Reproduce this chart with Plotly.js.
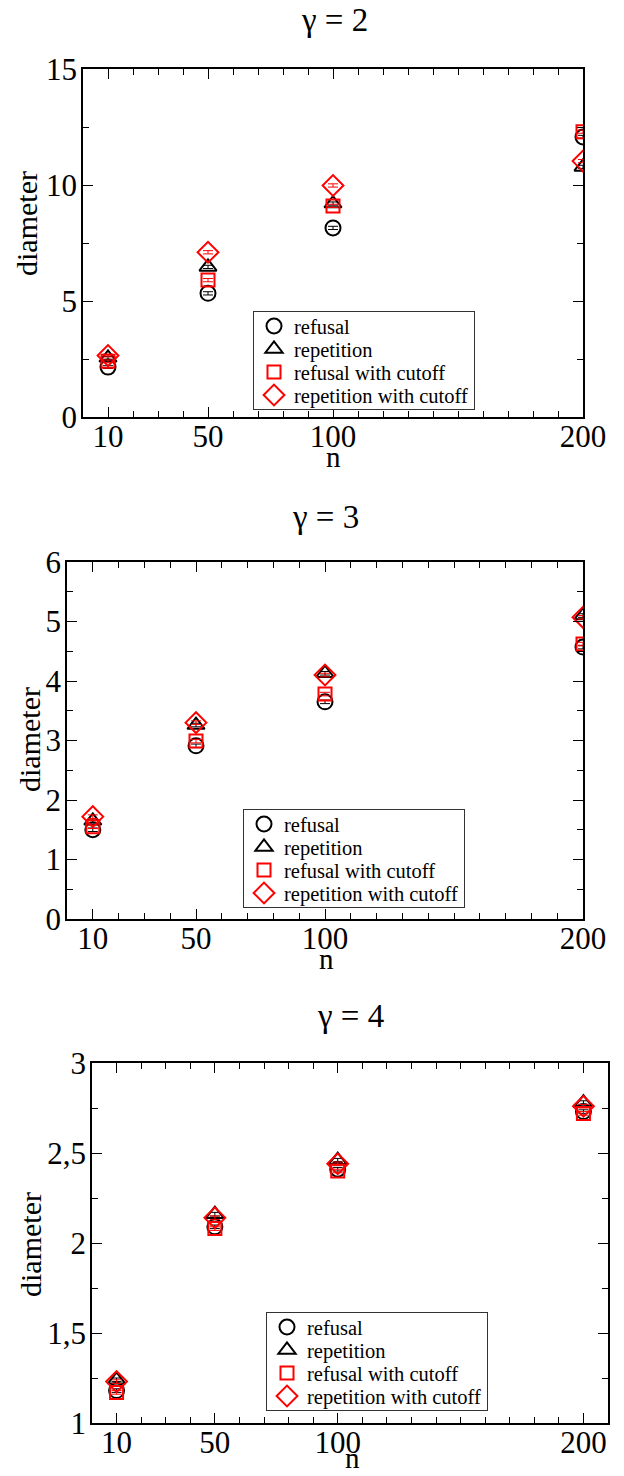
<!DOCTYPE html>
<html>
<head>
<meta charset="utf-8">
<script src="https://cdn.plot.ly/plotly-3.0.1.min.js"></script>
<style>
  html, body { margin: 0; padding: 0; background: #fff; }
  #chart { width: 624px; height: 1476px; }
</style>
</head>
<body>
<div id="chart"></div>
<script>
// ---------------- data ----------------
const n = [10, 50, 100, 200];
const seriesNames = ["refusal", "repetition", "refusal with cutoff", "repetition with cutoff"];

const g2_refusal = [2.15, 5.33, 8.15, 12.07];
const g2_repetition = [2.55, 6.47, 9.2, 10.78];
const g2_refusal_cutoff = [2.4, 5.9, 9.1, 12.3];
const g2_repetition_cutoff = [2.65, 7.1, 9.98, 11.03];
const g2_err = [0.06, 0.07, 0.07, 0.07];

const g3_refusal = [1.5, 2.91, 3.65, 4.57];
const g3_repetition = [1.65, 3.26, 4.13, 5.1];
const g3_refusal_cutoff = [1.55, 2.99, 3.78, 4.62];
const g3_repetition_cutoff = [1.72, 3.3, 4.1, 5.07];
const g3_err = [0.03, 0.03, 0.03, 0.03];

const g4_refusal = [1.18, 2.09, 2.41, 2.73];
const g4_repetition = [1.24, 2.16, 2.46, 2.78];
const g4_refusal_cutoff = [1.17, 2.08, 2.40, 2.72];
const g4_repetition_cutoff = [1.23, 2.14, 2.44, 2.76];
const g4_err = [0.01, 0.01, 0.01, 0.01];

const panelTitles = ["\u03b3 = 2", "\u03b3 = 3", "\u03b3 = 4"];
const xTickVals = [10, 50, 100, 200];
const xTickText = ["10", "50", "100", "200"];
const y1TickVals = [0, 5, 10, 15];
const y1TickText = ["0", "5", "10", "15"];
const y2TickVals = [0, 1, 2, 3, 4, 5, 6];
const y2TickText = ["0", "1", "2", "3", "4", "5", "6"];
const y3TickVals = [1, 1.5, 2, 2.5, 3];
const y3TickText = ["1", "1,5", "2", "2,5", "3"];

// ---------------- styles ----------------
const FONT = "'Liberation Serif', 'Times New Roman', serif";
const styles = [
  {symbol: "circle-open", color: "#000000", size: 15},
  {symbol: "triangle-up-open", color: "#000000", size: 15},
  {symbol: "square-open", color: "#ff0000", size: 13},
  {symbol: "diamond-open", color: "#ff0000", size: 16}
];

const panels = [
  {series: [g2_refusal, g2_repetition, g2_refusal_cutoff, g2_repetition_cutoff], err: g2_err},
  {series: [g3_refusal, g3_repetition, g3_refusal_cutoff, g3_repetition_cutoff], err: g3_err},
  {series: [g4_refusal, g4_repetition, g4_refusal_cutoff, g4_repetition_cutoff], err: g4_err}
];

const W = 624, H = 1476;
// pixel boxes of plot areas [left, right, top, bottom]
const boxes = [
  [83, 583, 69, 417],
  [67, 583, 562, 919],
  [92, 608, 1063, 1423]
];
const xRanges = [[0, 200], [0, 200], [0, 210]];
const yRanges = [[0, 15], [0, 6], [1, 3]];
const yTicks = [[y1TickVals, y1TickText, 2.5], [y2TickVals, y2TickText, 0.5], [y3TickVals, y3TickText, 0.25]];
const legendPos = [[253, 311], [243, 809], [266, 1312]];
const titlePos = [[334, 20], [325, 517], [350, 1016]];
const nPos = [[333, 457], [326, 959], [352, 1458]];
const diamPos = [[27, 224], [30, 740], [30, 1245]];

const traces = [];
panels.forEach((p, pi) => {
  const ax = pi === 0 ? "" : String(pi + 1);
  p.series.forEach((ys, si) => {
    traces.push({
      type: "scatter",
      mode: "markers",
      x: n,
      y: ys,
      name: seriesNames[si],
      xaxis: "x" + ax,
      yaxis: "y" + ax,
      legend: "legend" + ax,
      marker: {
        symbol: styles[si].symbol,
        size: styles[si].size,
        color: styles[si].color,
        line: {color: styles[si].color, width: 2}
      },
      error_y: {type: "data", array: p.err, visible: true, color: styles[si].color, thickness: 1, width: 5},
      hoverinfo: "x+y+name"
    });
  });
});

const layout = {
  width: W,
  height: H,
  margin: {l: 0, r: 0, t: 0, b: 0},
  paper_bgcolor: "#ffffff",
  plot_bgcolor: "#ffffff",
  font: {family: FONT, color: "#000000", size: 30},
  showlegend: true,
  annotations: []
};

boxes.forEach((b, i) => {
  const ax = i === 0 ? "" : String(i + 1);
  layout["xaxis" + ax] = {
    domain: [b[0] / W, b[1] / W],
    anchor: "y" + ax,
    range: xRanges[i],
    showline: true, linecolor: "#000000", linewidth: 1.5,
    mirror: "ticks",
    ticks: "inside", ticklen: 10, tickwidth: 1, tickcolor: "#000000",
    tickvals: xTickVals, ticktext: xTickText,
    tickfont: {family: FONT, size: 31, color: "#000000"},
    ticklabelstandoff: -9,
    minor: {dtick: 10, tick0: 0, ticks: "inside", ticklen: 6, tickwidth: 1, tickcolor: "#000000", showgrid: false},
    showgrid: false, zeroline: false, fixedrange: true
  };
  layout["yaxis" + ax] = {
    domain: [1 - b[3] / H, 1 - b[2] / H],
    anchor: "x" + ax,
    range: yRanges[i],
    showline: true, linecolor: "#000000", linewidth: 1.5,
    mirror: "ticks",
    ticks: "inside", ticklen: 10, tickwidth: 1, tickcolor: "#000000",
    tickvals: yTicks[i][0], ticktext: yTicks[i][1],
    tickfont: {family: FONT, size: 31, color: "#000000"},
    ticklabelstandoff: -2,
    minor: {dtick: yTicks[i][2], tick0: yRanges[i][0], ticks: "inside", ticklen: 6, tickwidth: 1, tickcolor: "#000000", showgrid: false},
    showgrid: false, zeroline: false, fixedrange: true
  };
  layout["legend" + ax] = {
    x: legendPos[i][0] / W, y: 1 - legendPos[i][1] / H,
    xanchor: "left", yanchor: "top",
    bgcolor: "#ffffff", bordercolor: "#333333", borderwidth: 1,
    font: {family: FONT, size: 20.5, color: "#000000"},
    tracegroupgap: 0, itemclick: false, itemdoubleclick: false
  };
  layout.annotations.push({
    text: panelTitles[i], xref: "paper", yref: "paper",
    x: titlePos[i][0] / W, y: 1 - titlePos[i][1] / H,
    xanchor: "center", yanchor: "middle", showarrow: false,
    font: {family: FONT, size: 33, color: "#000000"}
  });
  layout.annotations.push({
    text: "n", xref: "paper", yref: "paper",
    x: nPos[i][0] / W, y: 1 - nPos[i][1] / H,
    xanchor: "center", yanchor: "middle", showarrow: false,
    font: {family: FONT, size: 29, color: "#000000"}
  });
  layout.annotations.push({
    text: "diameter", xref: "paper", yref: "paper",
    x: diamPos[i][0] / W, y: 1 - diamPos[i][1] / H,
    xanchor: "center", yanchor: "middle", showarrow: false, textangle: -90,
    font: {family: FONT, size: 30, color: "#000000"}
  });
});

// compact legend rows (the reference legend rows are tighter than Plotly's default)
const ROW_CENTERS = [15, 38, 61, 84];
const LEGEND_HEIGHT = 99;
function compactLegends(gd) {
  ["legend", "legend2", "legend3"].forEach(id => {
    const lg = gd.querySelector("g." + id);
    if (!lg) return;
    const items = lg.querySelectorAll("g.traces");
    items.forEach((it, k) => {
      const tr = it.getAttribute("transform") || "";
      const m = /translate\(\s*([-\d.e]+)[,\s]+([-\d.e]+)\s*\)/.exec(tr);
      const x = m ? parseFloat(m[1]) : 0;
      if (k < ROW_CENTERS.length) it.setAttribute("transform", "translate(" + x + "," + ROW_CENTERS[k] + ")");
    });
    const bg = lg.querySelector("rect.bg");
    if (bg) bg.setAttribute("height", LEGEND_HEIGHT - 1);
  });
}

Plotly.newPlot("chart", traces, layout, {displayModeBar: false, responsive: false})
  .then(gd => compactLegends(gd));
</script>
</body>
</html>
